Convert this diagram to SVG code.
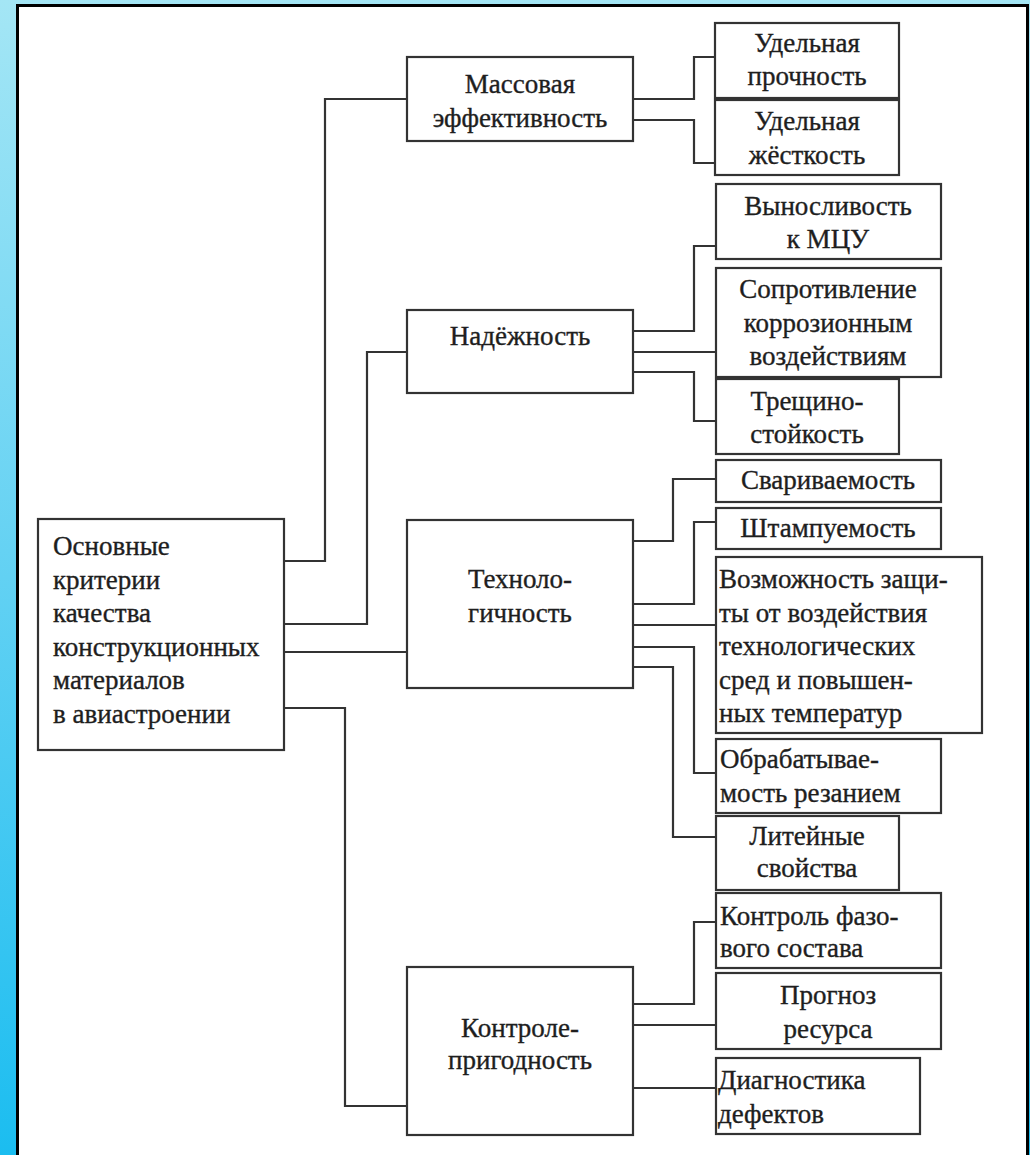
<svg xmlns="http://www.w3.org/2000/svg" width="1030" height="1155" viewBox="0 0 1030 1155">
<defs>
<linearGradient id="bg" x1="0" y1="0" x2="0" y2="1">
<stop offset="0" stop-color="#a4e6f5"/>
<stop offset="0.5" stop-color="#62d1f3"/>
<stop offset="1" stop-color="#1bbdf0"/>
</linearGradient>
</defs>
<style>
.box{fill:#fff;stroke:#333;stroke-width:2.2}
.ln{fill:none;stroke:#333;stroke-width:2.2}
.t{font-family:'Liberation Serif','Times New Roman',serif;font-size:27px;fill:#1e1e1e;stroke:#1e1e1e;stroke-width:0.35}
.c{text-anchor:middle}
</style>
<rect x="0" y="0" width="1030" height="1155" fill="url(#bg)"/>
<rect x="17.5" y="5.5" width="1010" height="1170" fill="#fff" stroke="#000" stroke-width="3"/>

<g id="connectors">
<path class="ln" d="M284,561 H325 V99 H407"/>
<path class="ln" d="M284,624 H367 V352 H407"/>
<path class="ln" d="M284,652 H407"/>
<path class="ln" d="M284,708 H345 V1106 H407"/>
<path class="ln" d="M633,99 H694 V57 H715"/>
<path class="ln" d="M633,120 H694 V163 H715"/>
<path class="ln" d="M633,331 H694 V246 H716"/>
<path class="ln" d="M633,352 H716"/>
<path class="ln" d="M633,372 H694 V421 H716"/>
<path class="ln" d="M633,541 H673 V479 H716"/>
<path class="ln" d="M633,604 H694 V522 H716"/>
<path class="ln" d="M633,625 H716"/>
<path class="ln" d="M633,647 H694 V773 H716"/>
<path class="ln" d="M633,667 H673 V837 H716"/>
<path class="ln" d="M633,1004 H694 V922 H716"/>
<path class="ln" d="M633,1025 H716"/>
<path class="ln" d="M633,1088 H716"/>
</g>

<g id="root">
<rect class="box" x="38" y="519" width="246" height="231"/>
<g class="t">
<text x="53" y="555">Основные</text>
<text x="53" y="588.5">критерии</text>
<text x="53" y="622">качества</text>
<text x="53" y="655.5">конструкционных</text>
<text x="53" y="689">материалов</text>
<text x="53" y="722.5">в авиастроении</text>
</g>
</g>

<g id="mass">
<rect class="box" x="407" y="57" width="226" height="84"/>
<g class="t c">
<text x="520" y="93">Массовая</text>
<text x="520" y="127">эффективность</text>
</g>
</g>

<g id="nadezhnost">
<rect class="box" x="407" y="310" width="226" height="83"/>
<g class="t c">
<text x="520" y="345">Надёжность</text>
</g>
</g>

<g id="tech">
<rect class="box" x="407" y="520" width="226" height="168"/>
<g class="t c">
<text x="520" y="588">Техноло-</text>
<text x="520" y="622">гичность</text>
</g>
</g>

<g id="control">
<rect class="box" x="407" y="967" width="226" height="168"/>
<g class="t c">
<text x="520" y="1037">Контроле-</text>
<text x="520" y="1069">пригодность</text>
</g>
</g>

<g id="ud-prochnost">
<rect class="box" x="715" y="23" width="184" height="75"/>
<g class="t c">
<text x="807" y="52">Удельная</text>
<text x="807" y="85">прочность</text>
</g>
</g>

<g id="ud-zhestkost">
<rect class="box" x="715" y="100" width="184" height="75"/>
<g class="t c">
<text x="807" y="130">Удельная</text>
<text x="807" y="164">жёсткость</text>
</g>
</g>

<g id="vynoslivost">
<rect class="box" x="716" y="184" width="225" height="75"/>
<g class="t c">
<text x="828" y="215">Выносливость</text>
<text x="828" y="248">к МЦУ</text>
</g>
</g>

<g id="soprotivlenie">
<rect class="box" x="716" y="268" width="225" height="109"/>
<g class="t c">
<text x="828" y="298">Сопротивление</text>
<text x="828" y="332">коррозионным</text>
<text x="828" y="365">воздействиям</text>
</g>
</g>

<g id="treshchino">
<rect class="box" x="716" y="379" width="183" height="75"/>
<g class="t c">
<text x="807" y="410">Трещино-</text>
<text x="807" y="443">стойкость</text>
</g>
</g>

<g id="svarivaemost">
<rect class="box" x="716" y="460" width="225" height="42"/>
<g class="t c">
<text x="828" y="489">Свариваемость</text>
</g>
</g>

<g id="shtampuemost">
<rect class="box" x="716" y="508" width="225" height="41"/>
<g class="t c">
<text x="828" y="537">Штампуемость</text>
</g>
</g>

<g id="vozmozhnost">
<rect class="box" x="716" y="557" width="266" height="176"/>
<g class="t">
<text x="719" y="588">Возможность защи-</text>
<text x="719" y="621.5">ты от воздействия</text>
<text x="719" y="655">технологических</text>
<text x="719" y="688.5">сред и повышен-</text>
<text x="719" y="722">ных температур</text>
</g>
</g>

<g id="obrabatyvaemost">
<rect class="box" x="716" y="739" width="225" height="74"/>
<g class="t">
<text x="720" y="768">Обрабатывае-</text>
<text x="720" y="802">мость резанием</text>
</g>
</g>

<g id="liteynye">
<rect class="box" x="716" y="816" width="183" height="74"/>
<g class="t c">
<text x="807" y="845">Литейные</text>
<text x="807" y="877">свойства</text>
</g>
</g>

<g id="kontrol-faz">
<rect class="box" x="716" y="893" width="225" height="75"/>
<g class="t">
<text x="720" y="925">Контроль фазо-</text>
<text x="720" y="957">вого состава</text>
</g>
</g>

<g id="prognoz">
<rect class="box" x="716" y="973" width="225" height="76"/>
<g class="t c">
<text x="828" y="1004">Прогноз</text>
<text x="828" y="1038">ресурса</text>
</g>
</g>

<g id="diagnostika">
<rect class="box" x="716" y="1058" width="204" height="76"/>
<g class="t">
<text x="718" y="1089">Диагностика</text>
<text x="718" y="1123">дефектов</text>
</g>
</g>
</svg>
